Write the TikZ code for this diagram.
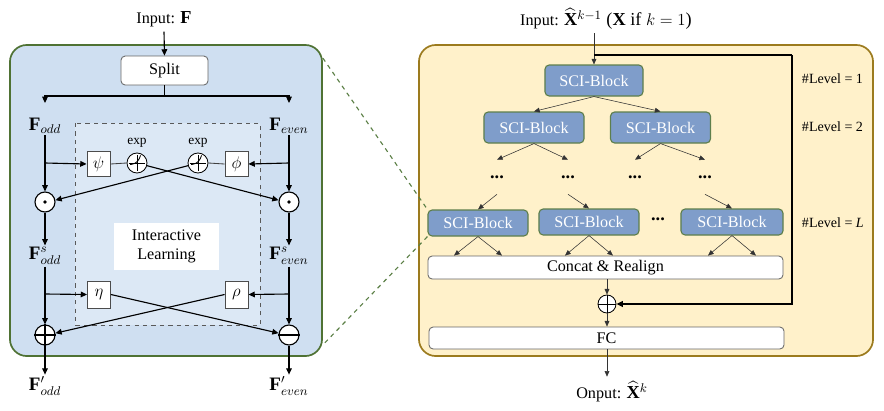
\documentclass[tikz,border=0pt]{standalone}
\usepackage{amsmath,amssymb}
\usepackage{fontspec}
\setmainfont{Liberation Serif}
\usepackage{xcolor}
\usetikzlibrary{arrows.meta,positioning,calc}

\definecolor{leftfill}{HTML}{CFDFF1}
\definecolor{innerfill}{HTML}{DCE8F5}
\definecolor{leftedge}{HTML}{4F7234}
\definecolor{rightfill}{HTML}{FFF1CA}
\definecolor{rightedge}{HTML}{9C7B1E}
\definecolor{sciblue}{HTML}{7F9DCA}
\definecolor{sciedge}{HTML}{5E7F4C}
\definecolor{zoomgreen}{HTML}{5B7F45}

\tikzset{
  panel/.style={rounded corners=12pt, line width=1.2pt, minimum height=7.775cm, inner sep=0pt},
  graybox/.style={draw=black!60, fill=white, rounded corners=3pt, line width=0.6pt, inner sep=0pt},
  opbox/.style={draw=black!70, fill=white, line width=0.6pt, minimum width=0.575cm,
                minimum height=0.625cm, inner sep=0pt, font=\fontsize{13}{15}\selectfont},
  opcirc/.style={circle, draw=black, fill=white, line width=0.8pt, minimum size=0.5cm, inner sep=0pt},
  sci/.style={draw=sciedge, fill=sciblue, text=white, rounded corners=3pt, line width=0.8pt,
              minimum width=2.5cm, inner sep=0pt},
  mathlabel/.style={font=\fontsize{13.5}{15}\selectfont, inner sep=1pt},
  flow/.style={-{Triangle[length=4.5pt,width=4pt]}, line width=0.8pt},
  thinflow/.style={-{Triangle[length=4pt,width=3.4pt]}, line width=0.4pt, draw=black!80},
  levellabel/.style={anchor=west, font=\fontsize{10}{12}\selectfont},
  zoomln/.style={draw=zoomgreen, dashed, line width=0.8pt}
}

\begin{document}
\begin{tikzpicture}[x=0.025cm, y=-0.025cm,
  every node/.style={font=\fontsize{11.5}{13.5}\selectfont}]
\useasboundingbox (0,0) rectangle (884,410);

% ---------------- left panel: interactive learning
\node[panel, draw=leftedge, fill=leftfill, minimum width=7.8cm] (lp) at (166,200.5) {};
\filldraw[fill=innerfill, draw=black!65, dashed, line width=0.6pt] (75,123) rectangle (260,325);
\node[fill=white, minimum width=2.625cm, minimum height=1.175cm, align=center] (il) at (166.5,246.5)
  {Interactive\\Learning};

\node (inF) at (164,19) {Input: {\fontsize{13}{15}\selectfont$\mathbf{F}$}};
\node[graybox, minimum width=2.175cm, minimum height=0.725cm] (split) at (164.5,70.5) {Split};
\draw[flow] (inF.south) -- (split.north);

\coordinate (sb) at (164.5,96);
\coordinate (oddtop) at (45,103);
\coordinate (eventop) at (289,103);
\draw[line width=0.8pt] (split.south) -- (sb);
\draw[flow] (sb) -| (oddtop);
\draw[flow] (sb) -| (eventop);

\node[mathlabel] (fodd) at (45,126) {$\mathbf{F}_{odd}$};
\node[mathlabel] (feven) at (289,126) {$\mathbf{F}_{even}$};

\node[opbox] (psi) at (98.5,164) {$\psi$};
\node[opbox] (phi) at (236.5,164) {$\phi$};
\node[opcirc, line width=0.6pt] (e1) at (137,163) {};
\node[opcirc, line width=0.6pt] (e2) at (198,163) {};
\node[font=\fontsize{9.5}{11}\selectfont, above=0pt of e1] {exp};
\node[font=\fontsize{9.5}{11}\selectfont, above=0pt of e2] {exp};
\foreach \e in {e1,e2} {
  \draw[line width=0.5pt] ([xshift=-0.2cm]\e.center) -- ([xshift=0.2cm]\e.center)
    ([yshift=-0.2cm]\e.center) -- ([yshift=0.2cm]\e.center);
  \draw[line width=0.6pt] ([shift={(-0.17cm,-0.04cm)}]\e.center)
    .. controls ([shift={(0.01cm,-0.01cm)}]\e.center) and ([shift={(0.04cm,0.06cm)}]\e.center)
    .. ([shift={(0.09cm,0.19cm)}]\e.center);
}

\node[opcirc] (dotL) at (45,202) {};
\node[opcirc] (dotR) at (289,202) {};
\foreach \o in {dotL,dotR}
  \fill (\o.center) circle (1.4pt);

\coordinate (brL1) at (45,163);
\coordinate (brR1) at (289,163);
\draw[flow] (fodd.south) -- (dotL.north);
\draw[flow] (feven.south) -- (dotR.north);
\draw[flow] (brL1) -- (psi.west);
\draw[flow] (brR1) -- (phi.east);
\draw[line width=0.6pt, black!75] (psi.east) -- (e1.west);
\draw[line width=0.6pt, black!75] (e2.east) -- (phi.west);
\draw[flow] (e1.-15) -- (dotR.170);
\draw[flow] (e2.195) -- (dotL.10);

\node[mathlabel] (fsodd) at (45,256) {$\mathbf{F}^{s}_{odd}$};
\node[mathlabel] (fseven) at (289,256) {$\mathbf{F}^{s}_{even}$};
\draw[flow] (dotL.south) -- (fsodd.north);
\draw[flow] (dotR.south) -- (fseven.north);

\node[opbox, minimum height=0.675cm] (eta) at (99,294.5) {$\eta$};
\node[opbox, minimum height=0.675cm] (rho) at (236.5,294.5) {$\rho$};
\node[opcirc] (plusL) at (45,335) {};
\node[opcirc] (minusR) at (289,335) {};
\draw[line width=0.8pt] (plusL.north) -- (plusL.south) (plusL.west) -- (plusL.east);
\draw[line width=0.8pt] (minusR.west) -- (minusR.east);

\coordinate (brL2) at (45,294);
\coordinate (brR2) at (289,294);
\draw[flow] (fsodd.south) -- (plusL.north);
\draw[flow] (fseven.south) -- (minusR.north);
\draw[flow] (brL2) -- (eta.west);
\draw[flow] (brR2) -- (rho.east);
\draw[flow] (eta.east) -- (minusR.170);
\draw[flow] (rho.west) -- (plusL.10);

\node[mathlabel] (fpodd) at (45,386) {$\mathbf{F}'_{odd}$};
\node[mathlabel] (fpeven) at (289,386) {$\mathbf{F}'_{even}$};
\draw[flow] (plusL.south) -- (fpodd.north);
\draw[flow] (minusR.south) -- (fpeven.north);

% ---------------- right panel: SCI tree
\node[panel, draw=rightedge, fill=rightfill, minimum width=11.35cm] (rp) at (646,200.5) {};

\node (inX) at (606,19) {Input: {\fontsize{13}{15}\selectfont$\widehat{\mathbf{X}}^{k-1}$ ($\mathbf{X}$ \textrm{if} $k=1$)}};
\node[sci, minimum width=2.45cm, minimum height=0.775cm] (s0) at (594,80.5) {SCI-Block};
\node[sci, minimum height=0.775cm] (s2a) at (534,127.5) {SCI-Block};
\node[sci, minimum height=0.775cm] (s2b) at (660.5,127.5) {SCI-Block};
\node[sci, minimum height=0.65cm] (sL1) at (478,223) {SCI-Block};
\node[sci, minimum height=0.65cm] (sL2) at (589,222) {SCI-Block};
\node[sci, minimum height=0.65cm, minimum width=2.55cm] (sL3) at (732,222) {SCI-Block};
\node[font=\bfseries\fontsize{13}{15}\selectfont] (dL) at (658,219) {...};

\foreach \d/\x in {d1/497, d2/568, d3/635, d4/705}
  \node[minimum height=0.85cm, inner sep=0pt, font=\bfseries\fontsize{13}{15}\selectfont]
    (\d) at (\x,177) {...};

\draw[thinflow] (s0.south) -- (s2a.north);
\draw[thinflow] (s0.south) -- (s2b.north);
\draw[thinflow] (s2a.south) -- (d1.north);
\draw[thinflow] (s2a.south) -- (d2.north);
\draw[thinflow] (s2b.south) -- (d3.north);
\draw[thinflow] (s2b.south) -- (d4.north);
\draw[thinflow] (d1.south) -- (sL1.north);
\draw[thinflow] (d2.south) -- (sL2.north);
\draw[thinflow] (d4.south) -- (sL3.north);

\node[graybox, minimum width=8.875cm, minimum height=0.575cm] (concat) at (605.5,267.5) {Concat \& Realign};
\foreach \b in {sL1,sL2,sL3} {
  \path (concat.north -| \b.south) coordinate (\b m);
  \draw[thinflow] (\b.south) -- ([xshift=-0.6cm]\b m);
  \draw[thinflow] (\b.south) -- ([xshift=0.6cm]\b m);
}

\node[opcirc, minimum size=0.45cm, line width=0.6pt] (plusR) at (607,304) {};
\draw[line width=0.6pt] (plusR.north) -- (plusR.south) (plusR.west) -- (plusR.east);
\node[graybox, minimum width=8.875cm, minimum height=0.55cm] (fc) at (606.5,338) {FC};
\node (outX) at (612,392) {Onput: {\fontsize{13}{15}\selectfont$\widehat{\mathbf{X}}^{k}$}};

\coordinate (xin) at (594,33);
\coordinate (fb) at (594,55);
\coordinate (fbc) at (792,55);
\draw[thinflow] (xin) -- (s0.north);
\draw[line width=1pt] (fb) -- (fbc);
\draw[flow, line width=1pt] (fbc) |- (plusR.east);

\draw[thinflow] (concat.south -| plusR.north) -- (plusR.north);
\draw[thinflow] (plusR.south) -- (plusR.south |- fc.north);
\draw[thinflow] (fc.south -| plusR.south) -- (plusR.south |- outX.north);

\node[levellabel] (lv1) at (797,79) {\#Level = 1};
\node[levellabel] (lv2) at (797,127) {\#Level = 2};
\node[levellabel] (lvL) at (797,223) {\#Level = \textit{L}};

% zoom lines
\draw[zoomln] ([yshift=-0.35cm]lp.north east) -- (sL1.north west);
\draw[zoomln] (sL1.south west) -- ([yshift=0.3cm]lp.south east);

\end{tikzpicture}
\end{document}
